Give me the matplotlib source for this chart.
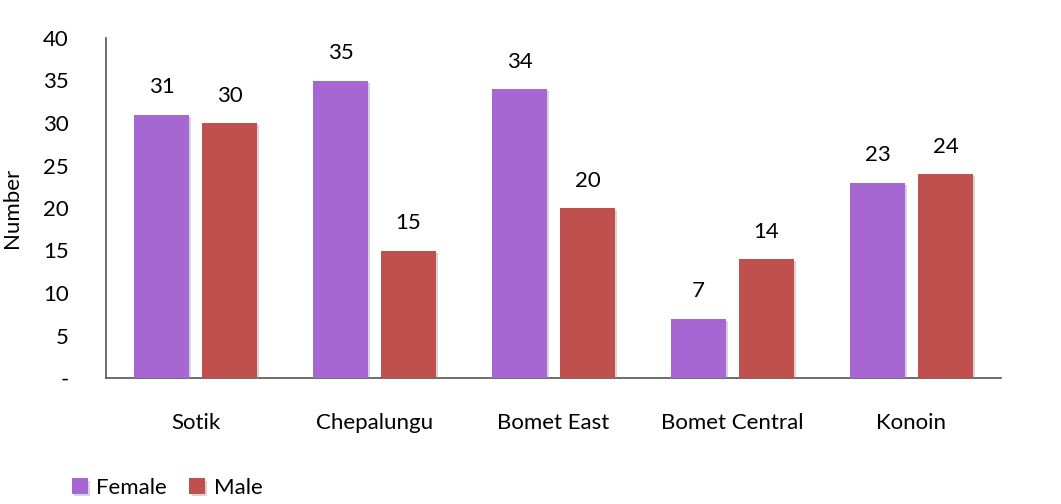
import matplotlib
matplotlib.use("Agg")
import matplotlib.pyplot as plt
import matplotlib.patheffects as pe
import numpy as np

categories = ["Sotik", "Chepalungu", "Bomet East", "Bomet Central", "Konoin"]
female = [31, 35, 34, 7, 23]
male = [30, 15, 20, 14, 24]
yticks = [0, 5, 10, 15, 20, 25, 30, 35, 40]
yticklabels = ["-", "5", "10", "15", "20", "25", "30", "35", "40"]

plt.rcParams['font.family'] = ['Lato', 'DejaVu Sans']
DPI = 100
fig = plt.figure(figsize=(10.61, 5.04), dpi=DPI)
W, H = 1061, 504
ax = fig.add_axes([106 / W, 1 - 378 / H, (1001 - 106) / W, (378 - 38) / H])

FS = 16
x = np.arange(len(categories))
bw = 0.31
gap = 0.07
shadow = [pe.SimplePatchShadow(offset=(1.5, -1.5), shadow_rgbFace='#888888', alpha=0.35), pe.Normal()]
fc = '#A667D2'
mc = '#C0504D'
b1 = ax.bar(x - (bw + gap) / 2, female, bw, color=fc, label="Female", zorder=3)
b2 = ax.bar(x + (bw + gap) / 2, male, bw, color=mc, label="Male", zorder=3)
for bars in (b1, b2):
    for r in bars:
        r.set_path_effects(shadow)
for bars, vals in ((b1, female), (b2, male)):
    for r, v in zip(bars, vals):
        ax.annotate(str(v), (r.get_x() + r.get_width() / 2, v), xytext=(0, 19.5),
                    textcoords='offset points', ha='center', va='center', fontsize=FS, color='black')

ax.set_xlim(-0.5, len(categories) - 0.5)
ax.set_ylim(0, 40)
ax.set_yticks(yticks)
ax.set_yticklabels(yticklabels, fontsize=FS)
ax.set_xticks(x)
ax.set_xticklabels(categories, fontsize=FS)
ax.tick_params(axis='both', length=0)
ax.tick_params(axis='y', pad=27)
ax.tick_params(axis='x', pad=25)
for s in ('top', 'right'):
    ax.spines[s].set_visible(False)
for s in ('left', 'bottom'):
    ax.spines[s].set_color('#555555')
    ax.spines[s].set_linewidth(1.2)
ax.set_ylabel("Number", fontsize=FS)
ax.yaxis.set_label_coords(-84 / (1001 - 106), 0.5)

leg = fig.legend(handles=[b1, b2], labels=["Female", "Male"], loc='center left',
                 bbox_to_anchor=(52 / W, 1 - 488 / H), ncol=2, frameon=False, fontsize=FS,
                 handlelength=0.7, handleheight=0.7, handletextpad=0.4, columnspacing=1.0)

fig.savefig("out.png", dpi=DPI, facecolor='white')
